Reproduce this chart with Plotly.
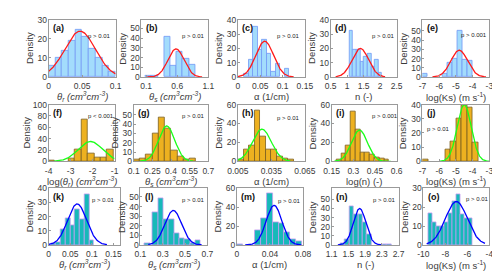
import numpy as np
import plotly.graph_objects as go

# ---------------- data ----------------
# histogram bin centres / densities per panel
a_x = [0.005, 0.015, 0.025, 0.035, 0.045, 0.055, 0.065, 0.075, 0.085, 0.095]
a_y = [6, 10, 14, 19, 25, 21, 15, 10, 6, 3]
b_x = [0.14, 0.24, 0.44, 0.54, 0.64, 0.74, 0.84]
b_y = [1, 1, 42, 12, 26, 19, 13]
c_x = [0.0185, 0.0286, 0.0387, 0.0488, 0.0589, 0.0690, 0.0791, 0.0892, 0.1094]
c_y = [2, 12, 35, 19, 26, 16, 4, 9, 6]
d_x = [1.125, 1.235, 1.345, 1.455, 1.565, 1.675, 1.785, 1.895, 2.005]
d_y = [32, 19, 19, 11, 14, 16, 7, 12, 3]
e_x = [-6.85, -5.65, -5.35, -5.05, -4.75, -4.45, -4.15]
e_y = [4, 4, 15, 20, 50, 19, 18]
f_x = [-3.855, -2.945, -2.655, -2.365, -2.075, -1.785, -1.495, -1.205]
f_y = [1, 5, 20, 74, 13, 6, 6, 20]
g_x = [0.125, 0.175, 0.225, 0.275, 0.325, 0.375, 0.425, 0.475, 0.525, 0.575]
g_y = [2, 3, 7, 30, 47, 35, 12, 5, 2, 3]
h_x = [0.0075, 0.0125, 0.0175, 0.0225, 0.0275, 0.0325, 0.0375, 0.0425, 0.0475, 0.0525]
h_y = [2, 13, 17, 54, 26, 13, 12, 5, 3, 2]
i_x = [0.2, 0.233, 0.266, 0.299, 0.332, 0.365, 0.398, 0.431, 0.464, 0.497, 0.53]
i_y = [2, 8, 17, 53, 34, 9, 9, 7, 4, 3, 2]
j_x = [-6.835, -5.475, -5.145, -4.815, -4.485, -4.155, -3.825]
j_y = [1, 8, 14, 30, 39, 38, 13]
k_x = [0.0115, 0.0225, 0.0335, 0.0445, 0.0555, 0.0665, 0.0775, 0.0885, 0.0995]
k_y = [1, 2, 11, 19, 14, 25, 18, 36, 3]
l_x = [0.162, 0.234, 0.282, 0.33, 0.378, 0.426, 0.474, 0.522, 0.57, 0.618]
l_y = [2, 34, 49, 27, 27, 12, 7, 6, 2, 5]
m_x = [0.004, 0.02555, 0.03265, 0.03975, 0.04685, 0.05395, 0.06105, 0.06815, 0.07525]
m_y = [1, 15, 28, 55, 24, 23, 13, 6, 4]
n_x = [1.367, 1.472, 1.577, 1.682, 1.787, 1.892, 1.997, 2.367, 2.472]
n_y = [2, 6, 42, 33, 34, 25, 12, 1, 1]
o_x = [-9.39, -9.02, -8.66, -8.29, -7.93, -7.56, -7.2, -6.83, -6.47, -6.1, -5.74]
o_y = [17, 12, 10, 10, 12, 17, 23, 27, 16, 14, 14]

bin_width = [0.01, 0.1, 0.0101, 0.11, 0.3,
             0.29, 0.05, 0.005, 0.033, 0.33,
             0.011, 0.048, 0.0071, 0.105, 0.365]

# fitted normal curves: mean, sd, peak density, plotted x-span
fit_mu = [0.047, 0.58, 0.06, 1.4, -4.8,
          -2.1, 0.365, 0.0265, 0.343, -4.5,
          0.066, 0.395, 0.045, 1.77, -7.0]
fit_sd = [0.023, 0.13, 0.02, 0.25, 0.5,
          0.55, 0.065, 0.0085, 0.055, 0.42,
          0.022, 0.075, 0.0095, 0.15, 1.0]
fit_peak = [24, 29, 25, 20, 29,
            35, 38, 34, 33, 40,
            29, 36, 42, 40, 23]
fit_lo = [0.0, 0.12, 0.0, 0.65, -6.4,
          -3.75, 0.15, 0.005, 0.17, -6.0,
          0.0, 0.17, 0.01, 1.25, -9.7]
fit_hi = [0.1, 1.0, 0.125, 2.15, -3.2,
          -1.0, 0.58, 0.052, 0.56, -3.0,
          0.135, 0.65, 0.078, 2.3, -4.4]

x_ranges = [[0, 0.1], [0.023, 1.1], [0, 0.15], [0.5, 2.5], [-7, -3],
            [-4, -1], [0.1, 0.7], [0.005, 0.065], [0.15, 0.6], [-7, -3],
            [0, 0.166], [0.1, 0.7], [0, 0.08], [1.1, 2.7], [-10, -4]]
y_max = [30, 59, 40, 40, 62,
         100, 61, 60, 60, 40,
         40, 59, 60, 62, 30]

x_tickvals = [[0, 0.05, 0.1], [0.1, 0.6, 1.1], [0, 0.05, 0.1, 0.15], [0.5, 1, 1.5, 2, 2.5], [-7, -6, -5, -4, -3],
              [-4, -3, -2, -1], [0.1, 0.25, 0.4, 0.55, 0.7], [0.005, 0.035, 0.065], [0.15, 0.3, 0.45, 0.6], [-7, -6, -5, -4, -3],
              [0, 0.05, 0.1, 0.15], [0.1, 0.3, 0.5, 0.7], [0, 0.04, 0.08], [1.1, 1.5, 1.9, 2.3, 2.7], [-10, -8, -6, -4]]
x_ticktext = [["0", "0.05", "0.1"], ["0.1", "0.6", "1.1"], ["0", "0.05", "0.1", "0.15"], ["0.5", "1", "1.5", "2", "2.5"], ["-7", "-6", "-5", "-4", "-3"],
              ["-4", "-3", "-2", "-1"], ["0.1", "0.25", "0.4", "0.55", "0.7"], ["0.005", "0.035", "0.065"], ["0.15", "0.3", "0.45", "0.6"], ["-7", "-6", "-5", "-4", "-3"],
              ["0", "0.05", "0.1", "0.15"], ["0.1", "0.3", "0.5", "0.7"], ["0", "0.04", "0.08"], ["1.1", "1.5", "1.9", "2.3", "2.7"], ["-10", "-8", "-6", "-4"]]
y_tickvals = [[0, 10, 20, 30], [0, 10, 20, 30, 40, 50], [0, 10, 20, 30, 40], [0, 10, 20, 30, 40], [0, 10, 20, 30, 40, 50],
              [0, 20, 40, 60, 80, 100], [0, 10, 20, 30, 40, 50], [0, 20, 40, 60], [0, 20, 40, 60], [0, 10, 20, 30, 40],
              [0, 10, 20, 30, 40], [0, 10, 20, 30, 40, 50], [0, 20, 40, 60], [0, 10, 20, 30, 40, 50], [0, 10, 20, 30]]

panel_labels = ["(a)", "(b)", "(c)", "(d)", "(e)", "(f)", "(g)", "(h)", "(i)", "(j)",
                "(k)", "(l)", "(m)", "(n)", "(o)"]
p_texts = ["p > 0.01", "p > 0.01", "p > 0.01", "p > 0.01", "p > 0.001",
           "p < 0.001", "p > 0.01", "p > 0.01", "p > 0.001", "p > 0.01",
           "p > 0.01", "p > 0.01", "p > 0.01", "p > 0.01", "p > 0.01"]

TH_R = "<i>θ<sub>r</sub> (cm<sup>3</sup>cm<sup>-3</sup>)</i>"
TH_S = "<i>θ<sub>s</sub> (cm<sup>3</sup>cm<sup>-3</sup>)</i>"
ALPHA = "α (1/cm)"
NN = "n (-)"
KS = "log(Ks) (m s<sup>-1</sup>)"
x_titles = [TH_R, TH_S, ALPHA, NN, KS,
            "log(<i>θ<sub>r</sub></i>) <i>(cm<sup>3</sup>cm<sup>-3</sup>)</i>", TH_S, ALPHA, "log(n) (-)", KS,
            TH_R, TH_S, ALPHA, NN, KS]

bars_x = [a_x, b_x, c_x, d_x, e_x, f_x, g_x, h_x, i_x, j_x, k_x, l_x, m_x, n_x, o_x]
bars_y = [a_y, b_y, c_y, d_y, e_y, f_y, g_y, h_y, i_y, j_y, k_y, l_y, m_y, n_y, o_y]

# ---------------- layout / style ----------------
W, H = 500, 274
# plot boxes in pixels: left, right, top, bottom
boxes = [(31, 101, 7, 66.5), (128, 198, 7, 66.5), (229, 299, 7, 66.5), (326, 395, 7, 66.5), (422, 492, 7, 66.5),
         (31, 100, 95, 154), (120, 198, 95, 154), (229, 299, 95, 154), (327, 395, 95, 154), (422, 492, 95, 154),
         (31, 106, 182, 240.7), (127, 197, 182, 240.7), (228, 297, 182, 240.7), (327, 397, 182, 240.7), (423, 492, 182, 240.7)]
# p-text centre positions (px)
p_pos = [(84, 24), (183, 24), (282, 24), (381, 24), (476, 23),
         (85.5, 107), (182.5, 107), (282, 109), (383, 107), (439, 120),
         (88, 194), (183, 194), (283, 195), (382.5, 194), (480, 193)]

row_fill = ["#a3dcfc", "#edb120", "#17b9b9"]
row_edge = ["#7298f5", "#7a5e1e", "#c39cf0"]
row_curve = ["#ff1a1a", "#1aff1a", "#0000ff"]

FONT = "Arial, 'Liberation Sans', sans-serif"
AX = "#9a9a9a"
TXT = "#3a3a3a"

fig = go.Figure()
ann = []
layout = {}


def px_x(v):
    return v / W


def px_y(v):
    return 1 - v / H


for p in range(15):
    row = p // 5
    sfx = "" if p == 0 else str(p + 1)
    xa, ya = "x" + sfx, "y" + sfx
    L, R, T, B = boxes[p]

    fig.add_trace(go.Bar(
        x=bars_x[p], y=bars_y[p], width=bin_width[p],
        marker=dict(color=row_fill[row], line=dict(color=row_edge[row], width=0.8)),
        xaxis=xa, yaxis=ya, showlegend=False, hoverinfo="skip"))

    xs = np.linspace(fit_lo[p], fit_hi[p], 200)
    ys = fit_peak[p] * np.exp(-0.5 * ((xs - fit_mu[p]) / fit_sd[p]) ** 2)
    fig.add_trace(go.Scatter(
        x=xs, y=ys, mode="lines", line=dict(color=row_curve[row], width=1.3),
        xaxis=xa, yaxis=ya, showlegend=False, hoverinfo="skip"))

    layout["xaxis" + sfx] = dict(
        domain=[px_x(L), px_x(R)], anchor=ya, range=x_ranges[p],
        tickvals=x_tickvals[p], ticktext=x_ticktext[p], ticklabelstandoff=1,
        showline=True, mirror=True, linecolor=AX, linewidth=1,
        ticks="inside", ticklen=2, tickcolor=AX, showgrid=False, zeroline=False,
        tickfont=dict(family=FONT, size=8.5, color=TXT), fixedrange=True)
    layout["yaxis" + sfx] = dict(
        domain=[px_y(B), px_y(T)], anchor=xa, range=[0, y_max[p]],
        tickvals=y_tickvals[p], ticklabelstandoff=-1,
        showline=True, mirror=True, linecolor=AX, linewidth=1,
        ticks="inside", ticklen=2, tickcolor=AX, showgrid=False, zeroline=False,
        tickfont=dict(family=FONT, size=8.5, color=TXT), fixedrange=True)

    # panel label
    ann.append(dict(text="<b>" + panel_labels[p] + "</b>", x=px_x(L + 2.5), y=px_y(T + 9),
                    xref="paper", yref="paper", xanchor="left", yanchor="middle",
                    showarrow=False, font=dict(family=FONT, size=9, color="#111111")))
    # p-value text
    px_, py_ = p_pos[p]
    ann.append(dict(text=p_texts[p], x=px_x(px_), y=px_y(py_),
                    xref="paper", yref="paper", xanchor="center", yanchor="middle",
                    showarrow=False, font=dict(family=FONT, size=6, color="#222222")))
    # x title
    ann.append(dict(text=x_titles[p], x=px_x((L + R) / 2), y=px_y(B + 20.5),
                    xref="paper", yref="paper", xanchor="center", yanchor="middle",
                    showarrow=False, font=dict(family=FONT, size=9.5, color=TXT)))
    # y title
    off = 23 if y_max[p] >= 100 else 20
    ann.append(dict(text="Density", x=px_x(L - off), y=px_y((T + B) / 2),
                    xref="paper", yref="paper", xanchor="center", yanchor="middle",
                    textangle=-90, showarrow=False, font=dict(family=FONT, size=9.5, color=TXT)))

fig.update_layout(
    width=W, height=H, margin=dict(l=0, r=0, t=0, b=0),
    paper_bgcolor="white", plot_bgcolor="white",
    bargap=0, annotations=ann, **layout)

fig.write_html("out.html")
